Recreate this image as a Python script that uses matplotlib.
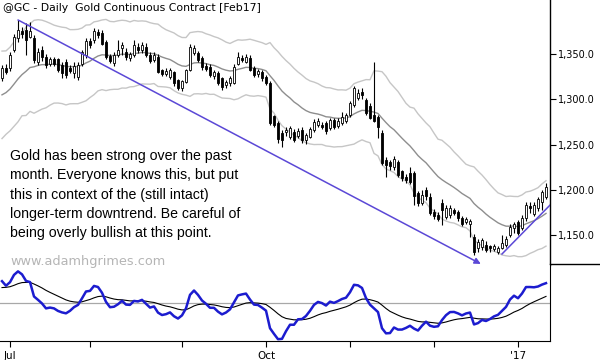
import numpy as np
import matplotlib
matplotlib.use("Agg")
import matplotlib.pyplot as plt
from matplotlib.lines import Line2D
from matplotlib.ticker import FuncFormatter

# daily bars, 29 Jun 2016 .. 12 Jan 2017 (Feb17 gold contract)
opens = [1324, 1335, 1335, 1355, 1368, 1375, 1377, 1370, 1368, 1342,
         1355, 1347, 1340, 1344, 1344, 1338, 1341, 1335, 1330, 1325,
         1340, 1349, 1364, 1366, 1374, 1373, 1363, 1348, 1341, 1350,
         1357, 1352, 1346, 1349, 1358, 1355, 1358, 1349, 1344, 1347,
         1332, 1329, 1325, 1330, 1321, 1313, 1320, 1333, 1352, 1351,
         1346, 1337, 1336, 1326, 1329, 1324, 1316, 1318, 1319, 1340,
         1346, 1342, 1346, 1335, 1328, 1330, 1325, 1318, 1281, 1274,
         1263, 1264, 1259, 1264, 1260, 1266, 1255, 1259, 1266, 1272,
         1272, 1274, 1269, 1277, 1271, 1274, 1277, 1283, 1294, 1302,
         1308, 1299, 1293, 1283, 1280, 1263, 1233, 1230, 1226, 1230,
         1220, 1214, 1218, 1218, 1196, 1186, 1199, 1192, 1175, 1172,
         1185, 1170, 1172, 1177, 1175, 1169, 1165, 1162, 1147, 1136,
         1137, 1139, 1137, 1135, 1131, 1136, 1139, 1150, 1158, 1164,
         1158, 1169, 1182, 1174, 1180, 1187, 1192]
highs = [1338, 1339, 1352, 1372, 1388, 1380, 1385, 1386, 1371, 1357,
         1359, 1350, 1347, 1347, 1346, 1342, 1345, 1338, 1342, 1341,
         1355, 1368, 1368, 1379, 1378, 1377, 1366, 1350, 1352, 1366,
         1364, 1357, 1353, 1366, 1362, 1364, 1362, 1352, 1352, 1350,
         1334, 1335, 1335, 1332, 1323, 1322, 1334, 1361, 1360, 1354,
         1348, 1340, 1339, 1333, 1332, 1325, 1322, 1326, 1339, 1352,
         1349, 1350, 1349, 1337, 1334, 1333, 1327, 1320, 1283, 1276,
         1266, 1270, 1271, 1267, 1268, 1269, 1263, 1270, 1278, 1280,
         1275, 1276, 1280, 1280, 1279, 1286, 1285, 1298, 1315, 1312,
         1313, 1302, 1296, 1341, 1283, 1266, 1236, 1233, 1237, 1233,
         1222, 1218, 1225, 1221, 1199, 1200, 1203, 1196, 1179, 1176,
         1190, 1183, 1183, 1180, 1178, 1171, 1170, 1168, 1151, 1146,
         1147, 1143, 1139, 1140, 1138, 1150, 1149, 1162, 1164, 1167,
         1172, 1186, 1186, 1186, 1192, 1200, 1208]
lows = [1321, 1328, 1332, 1352, 1364, 1368, 1349, 1368, 1340, 1338,
        1343, 1335, 1337, 1337, 1330, 1324, 1324, 1329, 1324, 1322,
        1337, 1346, 1357, 1362, 1368, 1360, 1345, 1340, 1337, 1347,
        1349, 1344, 1343, 1347, 1351, 1351, 1347, 1340, 1341, 1329,
        1326, 1326, 1323, 1315, 1310, 1309, 1318, 1331, 1349, 1341,
        1333, 1331, 1325, 1323, 1316, 1311, 1313, 1315, 1317, 1338,
        1341, 1340, 1331, 1325, 1325, 1321, 1316, 1272, 1269, 1252,
        1247, 1260, 1256, 1253, 1257, 1252, 1251, 1257, 1264, 1269,
        1267, 1262, 1266, 1267, 1268, 1272, 1274, 1281, 1292, 1299,
        1300, 1283, 1278, 1275, 1257, 1228, 1214, 1222, 1222, 1214,
        1210, 1208, 1206, 1183, 1182, 1183, 1189, 1172, 1168, 1165,
        1161, 1168, 1169, 1172, 1166, 1160, 1162, 1148, 1128, 1131,
        1133, 1131, 1131, 1132, 1129, 1134, 1137, 1148, 1152, 1150,
        1155, 1166, 1174, 1171, 1177, 1178, 1190]
closes = [1335, 1331, 1349, 1369, 1377, 1373, 1366, 1375, 1344, 1352,
          1347, 1338, 1344, 1340, 1333, 1330, 1327, 1332, 1337, 1338,
          1352, 1364, 1361, 1376, 1372, 1362, 1347, 1343, 1349, 1354,
          1360, 1347, 1350, 1360, 1355, 1360, 1349, 1343, 1349, 1331,
          1329, 1331, 1332, 1318, 1313, 1320, 1332, 1358, 1357, 1344,
          1336, 1334, 1327, 1330, 1319, 1314, 1319, 1323, 1336, 1347,
          1344, 1347, 1333, 1327, 1331, 1324, 1318, 1274, 1272, 1257,
          1255, 1266, 1268, 1256, 1265, 1256, 1260, 1267, 1275, 1276,
          1270, 1265, 1277, 1270, 1276, 1280, 1282, 1296, 1312, 1307,
          1305, 1285, 1280, 1277, 1270, 1230, 1228, 1227, 1234, 1217,
          1213, 1211, 1209, 1194, 1186, 1194, 1194, 1175, 1171, 1168,
          1178, 1180, 1180, 1175, 1169, 1163, 1167, 1165, 1131, 1142,
          1144, 1134, 1136, 1137, 1135, 1141, 1145, 1159, 1162, 1153,
          1169, 1183, 1180, 1183, 1189, 1197, 1203]

# first bar of each month and its label
month_pos = [2, 22, 45, 66, 87, 108, 129]
month_labels = ["Jul", "", "", "Oct", "", "", "'17"]
price_ticks = [1150, 1200, 1250, 1300, 1350]

# indicator seeds (values already running when the window opens)
kelt_seed, atr_seed = 1302.0, 22.0
fast_seed, slow_seed, sig_seed = 1330.0, 1310.0, 12.0


def ema(values, n, seed):
    a = 2.0 / (n + 1)
    out, v = [], seed
    for x in values:
        v = v + a * (x - v)
        out.append(v)
    return np.array(out)


o, h, l, c = map(np.array, (opens, highs, lows, closes))
x = np.arange(len(c))

# keltner channel: 20 ema +/- 2.25 atr
prev_c = np.r_[c[0], c[:-1]]
tr = np.maximum(h - l, np.maximum(abs(h - prev_c), abs(l - prev_c)))
mid = ema(c, 20, kelt_seed)
atr = ema(tr, 20, atr_seed)
upper, lower = mid + 2.25 * atr, mid - 2.25 * atr

# 3-10 oscillator with 16 signal
osc = ema(c, 3, fast_seed) - ema(c, 10, slow_seed)
sig = ema(osc, 16, sig_seed)

fig = plt.figure(figsize=(6, 3.6), dpi=100)
ax = fig.add_axes([0, 95 / 360, 550 / 600, 265 / 360])
ax2 = fig.add_axes([0, 19 / 360, 550 / 600, 76 / 360])

ax.plot(x, upper, color="#c6c6c6", lw=1)
ax.plot(x, lower, color="#c6c6c6", lw=1)
ax.plot(x, mid, color="#8e8e8e", lw=1)

up = c >= o
ax.vlines(x, l, h, color="black", lw=0.8, zorder=3)
ax.bar(x, np.abs(c - o) + 0.6, bottom=np.minimum(o, c) - 0.3, width=0.62,
       color=np.where(up, "white", "black"), edgecolor="black", lw=0.6, zorder=4)

# trend lines
ax.annotate("", xy=(119.7, 1118), xytext=(4, h[4]),
            arrowprops=dict(arrowstyle="-|>", color="#5b48d6", lw=1.1,
                            shrinkA=0, shrinkB=0, mutation_scale=9),
            annotation_clip=False, zorder=5)
ax.plot([125, 137.2], [1129, 1184], color="#5b48d6", lw=1.1, zorder=5)

ax.set_xlim(-0.5, 137)
ax.set_ylim(1116.8, 1410.1)
ax.yaxis.tick_right()
ax.set_yticks(price_ticks)
ax.yaxis.set_major_formatter(FuncFormatter(lambda v, p: f"{v:,.1f}"))
ax.tick_params(axis="y", direction="out", length=4, width=0.8, labelsize=7, pad=2)
ax.tick_params(axis="x", bottom=False, labelbottom=False)
for s in ("top", "left", "bottom"):
    ax.spines[s].set_visible(False)
ax.spines["right"].set_linewidth(1)

m = max(-osc.min(), osc.max()) * 1.05
ax2.axhline(0, color="#a8a8a8", lw=0.9)
ax2.plot(x, sig, color="black", lw=0.8)
ax2.plot(x, osc, color="#1c1ccf", lw=1.8)
ax2.set_xlim(-0.5, 137)
ax2.set_ylim(-m, m)
ax2.set_yticks([])
ax2.set_xticks(month_pos)
ax2.set_xticklabels(month_labels)
ax2.tick_params(axis="x", direction="out", length=4, width=0.8, labelsize=7.5, pad=3)
for s in ("top", "left"):
    ax2.spines[s].set_visible(False)

fig.add_artist(Line2D([550 / 600, 1], [96 / 360, 96 / 360], color="black", lw=1))

fig.text(3 / 600, 1 - 8 / 360, "@GC - Daily  Gold Continuous Contract [Feb17]",
         fontsize=7.8, va="center", ha="left")
fig.text(10 / 600, 1 - 149 / 360,
         "Gold has been strong over the past\n"
         "month. Everyone knows this, but put\n"
         "this in context of the (still intact)\n"
         "longer-term downtrend. Be careful of\n"
         "being overly bullish at this point.",
         family="Liberation Sans", fontsize=10.2, linespacing=1.48, va="top", ha="left")
fig.text(10 / 600, 1 - 261 / 360, "www.adamhgrimes.com", fontsize=9.3,
         color="#b5b5b5", va="center", ha="left")

fig.savefig("out.png", dpi=100)
